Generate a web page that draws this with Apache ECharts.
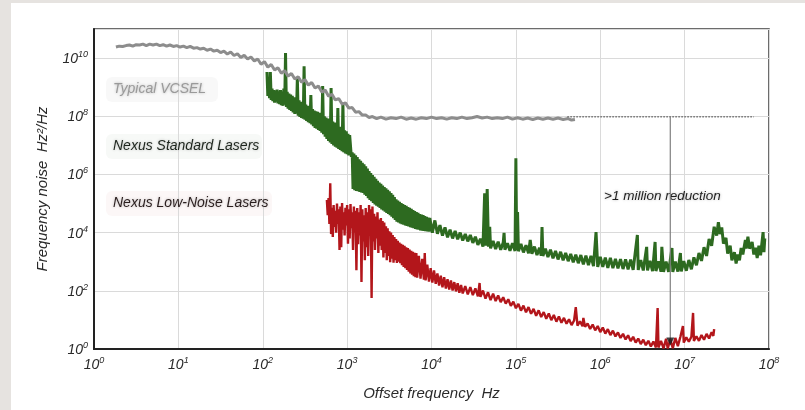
<!DOCTYPE html>
<html><head><meta charset="utf-8">
<script src="https://cdn.jsdelivr.net/npm/echarts@6/dist/echarts.min.js"></script>
<style>
html,body{margin:0;padding:0;width:805px;height:410px;overflow:hidden;background:#e6e3e0;}
#panel{position:absolute;left:11px;top:3px;width:794px;height:407px;background:#fff;}
#chart{position:absolute;left:0;top:0;width:805px;height:410px;}
</style></head><body>
<div id="panel"></div><div id="chart"></div>
<script>
// All values are decade exponents: [log10(offset frequency / Hz), log10(noise / (Hz^2/Hz))]
const xTickExponents = [0, 1, 2, 3, 4, 5, 6, 7, 8];
const yTickExponents = [0, 2, 4, 6, 8, 10];

const vcselNoise = [
[0.26,10.38],[0.30,10.41],[0.34,10.40],[0.38,10.43],[0.42,10.45],[0.46,10.41],[0.50,10.46],[0.54,10.45],[0.58,10.48],[0.62,10.43],
[0.66,10.48],[0.70,10.45],[0.74,10.48],[0.78,10.43],[0.82,10.46],[0.86,10.41],[0.90,10.45],[0.94,10.40],[0.98,10.43],[1.02,10.38],
[1.06,10.41],[1.10,10.36],[1.14,10.40],[1.18,10.34],[1.22,10.36],[1.26,10.31],[1.30,10.34],[1.34,10.27],[1.38,10.31],[1.42,10.24],
[1.46,10.27],[1.50,10.19],[1.54,10.24],[1.58,10.14],[1.62,10.21],[1.66,10.09],[1.70,10.15],[1.74,10.02],[1.78,10.10],[1.82,9.97],
[1.86,10.04],[1.90,9.90],[1.94,9.97],[1.98,9.79],[2.02,9.88],[2.06,9.69],[2.10,9.78],[2.14,9.59],[2.18,9.67],[2.22,9.48],
[2.26,9.57],[2.30,9.38],[2.34,9.47],[2.38,9.28],[2.42,9.36],[2.46,9.17],[2.50,9.26],[2.54,9.07],[2.58,9.16],[2.62,8.97],
[2.66,9.04],[2.70,8.83],[2.74,8.90],[2.78,8.69],[2.82,8.76],[2.86,8.56],[2.90,8.61],[2.94,8.42],[2.98,8.46],[3.02,8.28],
[3.06,8.30],[3.10,8.14],[3.14,8.16],[3.18,8.04],[3.22,8.04],[3.26,7.96],[3.30,7.99],[3.35,7.92],[3.40,7.97],[3.46,7.90],
[3.52,7.95],[3.58,7.92],[3.64,7.97],[3.70,7.90],[3.76,7.94],[3.82,7.90],[3.88,7.95],[3.94,7.92],[4.00,7.97],[4.06,7.92],
[4.12,7.95],[4.18,7.90],[4.24,7.95],[4.30,7.92],[4.36,7.97],[4.42,7.92],[4.48,7.95],[4.54,7.99],[4.60,7.94],[4.66,7.97],
[4.72,7.92],[4.78,7.95],[4.84,7.92],[4.90,7.97],[4.96,7.90],[5.02,7.95],[5.08,7.90],[5.14,7.94],[5.20,7.89],[5.26,7.94],
[5.32,7.90],[5.38,7.94],[5.44,7.90],[5.50,7.94],[5.56,7.89],[5.62,7.92],[5.66,7.87],[5.70,7.89]
];

const standardLaserNoise = [
[2.05,9.52],[2.06,8.70],[2.07,9.30],[2.08,8.62],[2.09,9.52],[2.10,8.56],[2.11,8.95],[2.12,8.52],[2.13,8.90],[2.14,8.47],
[2.15,8.88],[2.16,8.50],[2.17,8.92],[2.18,8.44],[2.19,8.86],[2.20,8.42],[2.21,8.90],[2.22,8.38],[2.23,8.85],[2.24,8.36],
[2.25,8.95],[2.26,8.40],[2.27,10.17],[2.28,8.32],[2.29,8.84],[2.30,8.26],[2.31,8.78],[2.32,8.22],[2.33,8.75],[2.34,8.18],
[2.35,8.70],[2.36,8.13],[2.37,8.65],[2.38,8.08],[2.39,8.62],[2.40,8.10],[2.41,9.31],[2.42,8.02],[2.43,8.55],[2.44,7.98],
[2.45,8.50],[2.46,7.94],[2.47,8.46],[2.48,7.92],[2.49,9.72],[2.50,7.88],[2.51,8.40],[2.52,7.84],[2.53,8.36],[2.54,7.80],
[2.55,8.33],[2.56,7.76],[2.57,8.73],[2.58,7.72],[2.59,8.25],[2.60,7.66],[2.61,8.20],[2.62,7.60],[2.63,8.17],[2.64,7.57],
[2.65,8.15],[2.66,7.53],[2.67,8.12],[2.68,7.50],[2.69,8.10],[2.70,7.44],[2.71,9.04],[2.72,7.38],[2.73,8.00],[2.74,7.30],
[2.75,7.96],[2.76,7.22],[2.77,7.92],[2.78,7.15],[2.79,7.88],[2.80,7.10],[2.81,8.97],[2.82,7.05],[2.83,7.82],[2.84,7.00],
[2.85,7.78],[2.86,6.95],[2.87,7.74],[2.88,6.92],[2.89,8.28],[2.90,6.88],[2.91,7.64],[2.92,6.84],[2.93,7.62],[2.94,6.80],
[2.95,8.45],[2.96,6.76],[2.97,7.52],[2.98,6.72],[2.99,7.48],[3.00,6.70],[3.01,7.40],[3.02,6.65],[3.03,7.35],
[3.04,7.30],[3.05,6.60],[3.06,6.76],[3.07,5.50],[3.08,6.72],[3.09,5.46],[3.10,6.66],[3.11,5.43],[3.12,6.60],[3.13,5.42],
[3.14,6.52],[3.15,5.40],[3.16,6.47],[3.17,5.38],[3.18,6.40],[3.19,5.36],[3.20,6.35],[3.21,5.30],[3.22,6.28],[3.23,5.26],
[3.24,6.20],[3.25,5.18],[3.26,6.12],[3.27,5.12],[3.28,6.05],[3.29,5.08],[3.30,5.98],[3.31,5.02],[3.32,5.92],[3.33,4.97],
[3.34,5.85],[3.35,4.93],[3.36,5.78],[3.37,4.89],[3.38,5.72],[3.39,4.85],[3.40,5.68],[3.41,4.80],[3.42,5.62],[3.43,4.76],
[3.44,5.57],[3.45,4.72],[3.46,5.52],[3.47,4.68],[3.48,5.47],[3.49,4.64],[3.50,5.42],[3.51,4.60],[3.52,5.36],[3.53,4.55],
[3.54,5.30],[3.55,4.50],[3.56,5.22],[3.57,4.44],[3.58,5.15],[3.59,4.38],[3.60,5.10],[3.61,4.35],[3.62,5.06],[3.63,4.32],
[3.64,5.02],[3.65,4.29],[3.66,4.98],[3.67,4.27],[3.68,4.95],[3.69,4.25],[3.70,4.92],[3.71,4.23],[3.72,4.88],[3.73,4.21],
[3.74,4.85],[3.75,4.19],[3.76,4.82],[3.77,4.17],[3.78,4.78],[3.79,4.15],[3.80,4.74],[3.81,4.13],[3.82,4.71],[3.83,4.11],
[3.84,4.68],[3.85,4.10],[3.86,4.64],[3.87,4.08],[3.88,4.62],[3.89,4.07],[3.90,4.60],[3.91,4.06],[3.92,4.57],[3.93,4.05],
[3.94,4.54],[3.95,4.04],[3.96,4.52],[3.97,4.03],[3.98,4.50],
[4.01,4.00],[4.04,4.42],[4.07,3.96],[4.10,4.26],[4.13,3.90],[4.16,4.18],[4.19,3.84],[4.22,4.10],[4.25,3.80],[4.28,4.06],
[4.31,3.77],[4.34,4.00],[4.37,3.73],[4.40,3.95],[4.43,3.70],[4.46,3.92],[4.49,3.65],[4.52,3.86],[4.55,3.58],[4.58,3.79],
[4.61,3.52],[4.63,5.35],[4.645,3.55],[4.66,5.50],[4.675,3.52],[4.69,4.20],[4.70,3.46],[4.73,3.71],[4.76,3.44],[4.79,3.69],
[4.82,3.41],[4.85,3.66],[4.86,3.99],[4.87,3.41],[4.90,3.64],[4.93,3.38],[4.96,3.64],[4.99,3.37],[5.00,6.56],[5.01,3.40],
[5.02,4.71],[5.03,3.36],[5.06,3.61],[5.09,3.32],[5.12,3.57],[5.15,3.29],[5.17,3.75],[5.19,3.27],[5.22,3.52],[5.25,3.23],
[5.28,3.48],[5.30,3.21],[5.31,4.19],[5.32,3.20],[5.35,3.45],[5.38,3.16],[5.41,3.41],[5.44,3.12],[5.47,3.37],[5.50,3.08],
[5.53,3.34],[5.56,3.05],[5.59,3.30],[5.62,3.02],[5.65,3.27],[5.68,2.98],[5.71,3.24],[5.74,2.95],[5.77,3.23],[5.80,2.91],
[5.83,3.21],[5.86,2.88],[5.89,3.20],[5.92,2.85],[5.95,4.02],[5.97,2.82],[6.00,3.17],[6.03,2.82],[6.06,3.14],[6.09,2.79],
[6.12,3.13],[6.15,2.78],[6.18,3.10],[6.21,2.77],[6.24,3.09],[6.27,2.75],[6.30,3.08],[6.33,2.74],[6.36,3.07],[6.39,2.72],
[6.44,3.92],[6.45,2.72],[6.48,3.06],[6.51,2.70],[6.55,3.51],[6.56,2.70],[6.59,3.03],[6.62,2.68],[6.65,3.68],[6.66,2.68],
[6.69,3.01],[6.72,2.66],[6.73,3.51],[6.75,2.65],[6.78,3.00],[6.81,2.65],[6.85,3.47],[6.86,2.65],[6.89,3.00],[6.92,2.66],
[6.95,3.30],[6.96,2.67],[6.99,3.02],[7.02,2.69],[7.05,3.06],[7.08,2.74],[7.11,3.15],[7.14,2.88],[7.17,3.30],[7.20,3.03],
[7.23,3.50],[7.26,3.20],[7.29,3.78],[7.32,3.55],[7.35,4.20],[7.38,3.90],[7.40,4.36],[7.42,3.95],[7.44,4.18],[7.46,3.62],
[7.49,3.82],[7.51,3.28],[7.54,3.55],[7.56,3.05],[7.59,3.33],[7.61,2.94],[7.63,3.25],[7.65,3.05],[7.67,3.47],[7.69,3.25],
[7.72,3.75],[7.73,3.45],[7.75,3.86],[7.77,3.45],[7.80,3.68],[7.82,3.25],[7.84,3.48],[7.86,3.13],[7.88,3.55],[7.90,3.22],
[7.93,4.02],[7.94,3.33],[7.95,3.80]
];

const lowNoiseLaserNoise = [
[2.76,5.12],[2.77,4.60],[2.78,5.19],[2.79,4.30],[2.80,5.70],[2.81,3.95],[2.82,4.85],[2.83,3.85],[2.84,4.95],[2.85,4.20],
[2.86,4.75],[2.87,4.00],[2.88,5.00],[2.89,4.30],[2.90,4.80],[2.91,3.40],[2.92,4.90],[2.93,3.50],[2.94,5.02],[2.95,4.10],
[2.96,4.70],[2.97,3.90],[2.98,4.85],[2.99,4.25],[3.00,4.95],[3.01,3.62],[3.02,4.80],[3.03,3.80],[3.04,4.98],[3.05,4.15],
[3.06,4.70],[3.07,3.40],[3.08,4.90],[3.09,4.00],[3.10,4.75],[3.11,2.71],[3.12,4.85],[3.13,3.60],[3.14,4.70],[3.15,3.90],
[3.16,4.95],[3.17,2.30],[3.18,4.80],[3.19,3.70],[3.20,4.60],[3.21,3.05],[3.22,4.85],[3.23,3.50],[3.24,4.70],[3.25,3.20],
[3.26,4.95],[3.27,3.90],[3.28,4.80],[3.29,1.75],[3.30,4.90],[3.31,3.70],[3.32,4.65],[3.33,3.40],[3.34,4.55],[3.35,3.80],
[3.36,4.70],[3.37,3.30],[3.38,4.45],[3.39,3.55],[3.40,4.50],[3.41,3.40],[3.42,4.40],[3.43,3.15],[3.44,4.35],[3.45,3.30],
[3.46,4.22],[3.47,3.05],[3.48,4.15],[3.49,3.20],[3.50,4.05],[3.51,2.98],[3.52,4.00],[3.53,3.10],[3.54,3.92],[3.55,2.97],
[3.56,3.85],[3.57,3.05],[3.58,3.78],[3.59,2.96],[3.60,3.72],[3.61,3.00],[3.62,3.66],[3.63,2.95],[3.64,3.62],[3.65,2.88],
[3.66,3.58],[3.67,2.82],[3.68,3.55],[3.69,2.78],[3.70,3.50],[3.71,2.72],[3.72,3.47],[3.73,2.66],[3.74,3.42],[3.75,2.60],
[3.76,3.38],[3.77,2.55],[3.78,3.34],[3.79,2.50],[3.80,3.31],[3.81,2.47],[3.82,3.30],[3.83,2.45],[3.85,3.20],[3.87,2.42],
[3.89,3.10],[3.91,2.38],[3.92,3.30],[3.93,2.36],[3.95,2.90],[3.97,2.32],[3.99,2.78],[4.01,2.28],[4.03,2.70],[4.05,2.24],
[4.07,2.60],[4.09,2.18],[4.11,2.52],[4.13,2.12],[4.15,2.47],[4.17,2.08],[4.19,2.40],[4.21,2.04],[4.23,2.36],[4.25,2.01],
[4.27,2.30],[4.29,1.98],[4.31,2.26],[4.33,1.93],[4.35,2.20],[4.37,1.91],[4.40,2.16],[4.43,1.88],[4.46,2.13],[4.49,1.85],
[4.52,2.08],[4.55,1.81],[4.57,2.27],[4.58,1.79],[4.61,2.01],[4.64,1.73],[4.67,1.95],[4.70,1.68],[4.73,1.90],[4.76,1.65],
[4.79,1.84],[4.82,1.61],[4.85,1.78],[4.88,1.56],[4.91,1.71],[4.94,1.48],[4.97,1.63],[5.00,1.40],[5.03,1.55],[5.06,1.32],
[5.09,1.49],[5.12,1.26],[5.15,1.44],[5.18,1.21],[5.21,1.38],[5.24,1.14],[5.27,1.33],[5.30,1.10],[5.33,1.27],[5.36,1.04],
[5.39,1.22],[5.42,0.99],[5.45,1.17],[5.48,0.94],[5.51,1.12],[5.54,0.90],[5.57,1.07],[5.60,0.87],[5.63,1.02],[5.66,0.82],
[5.69,0.98],[5.71,1.44],[5.73,0.80],[5.76,0.95],[5.79,0.78],[5.80,1.07],[5.82,0.76],[5.85,0.88],[5.88,0.69],[5.91,0.84],
[5.94,0.64],[5.97,0.79],[6.00,0.58],[6.03,0.74],[6.06,0.53],[6.09,0.68],[6.12,0.48],[6.15,0.63],[6.18,0.43],[6.21,0.57],
[6.24,0.38],[6.27,0.52],[6.30,0.33],[6.33,0.47],[6.36,0.27],[6.39,0.42],[6.42,0.22],[6.45,0.36],[6.48,0.17],[6.51,0.32],
[6.54,0.13],[6.57,0.28],[6.60,0.09],[6.63,0.26],[6.66,0.05],[6.68,1.41],[6.69,0.05],[6.72,0.28],[6.75,0.02],[6.78,0.35],
[6.80,0.02],[6.83,0.32],[6.86,0.03],[6.89,0.38],[6.92,0.10],[6.95,0.42],[6.98,0.79],[6.99,0.22],[7.02,0.40],[7.05,0.25],
[7.08,0.42],[7.10,1.24],[7.11,0.28],[7.14,0.44],[7.17,0.28],[7.20,0.48],[7.23,0.32],[7.26,0.52],[7.29,0.36],[7.32,0.58],
[7.34,0.45],[7.35,0.68]
];

const vcselFloorExtension = [[5.61, 7.98], [7.82, 7.98]];
const reductionLine = [[6.83, 7.98], [6.83, 0.18]];
const reductionArrowTip = [[6.83, 0.26]];

const curveLabelTexts = ['Typical VCSEL', 'Nexus Standard Lasers', 'Nexus Low-Noise Lasers'];
const reductionText = '>1 million reduction';
const xAxisTitle = 'Offset frequency  Hz';
const yAxisTitle = 'Frequency noise  Hz\u00b2/Hz';

const FONT = '"Liberation Sans", Arial, sans-serif';
const richPow = {
  b: { fontSize: 14, fontStyle: 'italic', fontFamily: FONT, color: '#2a2a2a', lineHeight: 16, verticalAlign: 'bottom' },
  s: { fontSize: 9, fontStyle: 'italic', fontFamily: FONT, color: '#2a2a2a', lineHeight: 16, verticalAlign: 'top' }
};

const chart = echarts.init(document.getElementById('chart'), null, { renderer: 'canvas' });

function labelBox(x, y, w, h, tint) {
  return { type: 'rect', shape: { x: x, y: y, width: w, height: h, r: 6 }, z: -1,
    style: { fill: tint, shadowBlur: 14, shadowColor: tint } };
}
function labelText(x, y, text, color, size) {
  return { type: 'text', x: x, y: y, z: 5,
    style: { text: text, fill: color, font: 'italic ' + size + 'px ' + FONT, align: 'left', verticalAlign: 'middle',
      textShadowColor: 'rgba(0,0,0,0.28)', textShadowBlur: 3 } };
}

chart.setOption({
  animation: false,
  backgroundColor: 'transparent',
  grid: { left: 94, right: 36, top: 29, bottom: 61, show: true, borderColor: '#3c3c3c', borderWidth: 1.5 },
  xAxis: {
    type: 'value', min: xTickExponents[0], max: xTickExponents[xTickExponents.length - 1], interval: 1,
    axisLine: { show: true, onZero: false, lineStyle: { color: '#222', width: 2 } },
    axisTick: { show: false },
    splitLine: { show: true, lineStyle: { color: '#dadada', width: 1 } },
    axisLabel: { margin: 7, formatter: v => '{b|10}{s|' + v + '}', rich: richPow },
    name: xAxisTitle, nameLocation: 'middle', nameGap: 37,
    nameTextStyle: { fontSize: 15, fontStyle: 'italic', fontFamily: FONT, color: '#2a2a2a' }
  },
  yAxis: {
    type: 'value', min: yTickExponents[0], max: 11, interval: 2,
    axisLine: { show: true, onZero: false, lineStyle: { color: '#222', width: 2 } },
    axisTick: { show: false },
    splitLine: { show: true, lineStyle: { color: '#dadada', width: 1 } },
    axisLabel: { margin: 6, formatter: v => (yTickExponents.indexOf(v) >= 0 ? '{b|10}{s|' + v + '}' : ''), rich: richPow },
    name: yAxisTitle, nameLocation: 'middle', nameGap: 44, nameRotate: 90,
    nameTextStyle: { fontSize: 15, fontStyle: 'italic', fontFamily: FONT, color: '#2a2a2a' }
  },
  graphic: [
    labelBox(106, 77, 112, 25, 'rgba(120,120,120,0.05)'),
    labelBox(106, 134, 156, 25, 'rgba(60,110,60,0.04)'),
    labelBox(106, 191, 166, 25, 'rgba(170,60,60,0.04)'),
    labelText(113, 89, curveLabelTexts[0], '#9a9a9a', 14),
    labelText(113, 146, curveLabelTexts[1], '#1e261e', 14),
    labelText(113, 203, curveLabelTexts[2], '#2a1e1e', 14),
    labelText(604, 196, reductionText, '#1e1e1e', 13.5)
  ],
  series: [
    { name: 'Nexus Standard Lasers', type: 'line', data: standardLaserNoise, showSymbol: false, z: 3,
      lineStyle: { color: '#2d6a20', width: 3, join: 'bevel' }, itemStyle: { color: '#2d6a20' } },
    { name: 'Nexus Low-Noise Lasers', type: 'line', data: lowNoiseLaserNoise, showSymbol: false, z: 4,
      lineStyle: { color: '#b3161b', width: 2.4, join: 'bevel' }, itemStyle: { color: '#b3161b' } },
    { name: 'Typical VCSEL', type: 'line', data: vcselNoise, showSymbol: false, z: 5,
      lineStyle: { color: '#8d8d8d', width: 3, join: 'bevel' }, itemStyle: { color: '#8d8d8d' } },
    { name: 'VCSEL floor', type: 'line', data: vcselFloorExtension, showSymbol: false, z: 5,
      lineStyle: { color: '#707070', width: 1.5, type: [1.5, 1.5] } },
    { name: 'reduction', type: 'line', data: reductionLine, showSymbol: false, z: 6,
      lineStyle: { color: '#808080', width: 1.2 } },
    { name: 'arrow', type: 'scatter', data: reductionArrowTip, symbol: 'triangle', symbolRotate: 180,
      symbolSize: [8, 8], z: 7, itemStyle: { color: '#111' } }
  ]
});
</script></body></html>
